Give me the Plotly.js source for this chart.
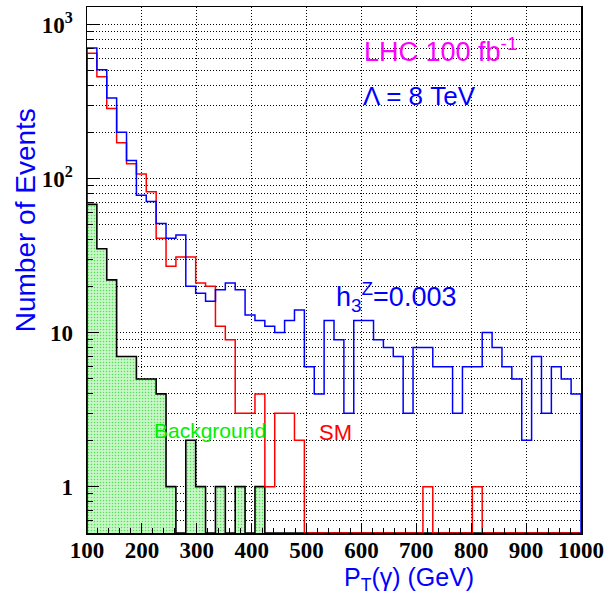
<!DOCTYPE html>
<html><head><meta charset="utf-8">
<script src="https://cdn.plot.ly/plotly-3.0.1.min.js"></script>
<style>html,body{margin:0;padding:0;background:#fff}</style>
</head><body><div id="chart" style="width:605px;height:597px"></div>
<script>
// Histogram definition: 50 bins of 18 GeV from 100 to 1000 GeV
const binLow = 100, binWidth = 18, nBins = 50;

// Signal, h3Z = 0.003 (blue)
const signal = [703, 508, 334, 200, 131, 78, 71, 51, 41, 43,
                20, 18, 16, 19, 21, 19, 13, 12, 11, 10,
                12, 14, 6, 4, 12, 9, 3, 12, 12, 9,
                8, 7, 3, 8, 8, 6, 6, 3, 6, 6,
                10, 8, 6, 5, 2, 7, 3, 6, 5, 4];
// Standard Model (red)
const sm = [652, 459, 285, 171, 125, 107, 82, 41, 27, 31,
            31, 21, 20, 11, 9, 3, 3, 4, 1, 3,
            3, 2, 0, 0, 0, 0, 0, 0, 0, 0,
            0, 0, 0, 0, 1, 0, 0, 0, 0, 1,
            0, 0, 0, 0, 0, 0, 0, 0, 0, 0];
// Background (black outline, green fill)
const background = [68, 35, 22, 7, 7, 5, 5, 4, 1, 0,
                    2, 1, 0, 1, 0, 1, 0, 1, 0, 0,
                    0, 0, 0, 0, 0, 0, 0, 0, 0, 0,
                    0, 0, 0, 0, 0, 0, 0, 0, 0, 0,
                    0, 0, 0, 0, 0, 0, 0, 0, 0, 0];

const xTickVals = [100, 200, 300, 400, 500, 600, 700, 800, 900, 1000];
const yTickVals = [1, 10, 100, 1000];
const yTickText = ['1', '10', '10<sup>2</sup>', '10<sup>3</sup>'];

const yMin = 0.5, yMax = 1300;
const edges = Array.from({length: nBins + 1}, (_, i) => binLow + i * binWidth);
const centers = edges.slice(0, -1).map(e => e + binWidth / 2);

function stepTrace(vals, color, width) {
  const x = [edges[0]], y = [yMin];
  vals.forEach((v, i) => { x.push(edges[i]); y.push(v > 0 ? v : yMin); });
  const last = vals[nBins - 1] > 0 ? vals[nBins - 1] : yMin;
  x.push(edges[nBins]); y.push(last);
  x.push(edges[nBins]); y.push(yMin);
  return {type: 'scatter', mode: 'lines', x: x, y: y,
          line: {shape: 'hv', color: color, width: width}, hoverinfo: 'skip'};
}

const minorY = [];
[0.1, 1, 10, 100].forEach(d => { for (let k = 2; k <= 9; k++) { const v = k * d; if (v >= yMin && v <= yMax) minorY.push(v); } });

const traces = [
  {type: 'bar', x: centers, y: background, width: binWidth,
   marker: {color: '#b6f2b6', line: {width: 0},
            pattern: {shape: '.', fgcolor: '#52e052', bgcolor: '#c8f7c8', size: 3, solidity: 0.2}},
   hoverinfo: 'skip'},
  stepTrace(background, '#000000', 1.6),
  stepTrace(sm, '#ff0000', 1.5),
  stepTrace(signal, '#0000ff', 1.5)
];

const gridDash = '1px,2px';
const layout = {
  width: 605, height: 597,
  margin: {l: 87, r: 24, t: 7, b: 64},
  paper_bgcolor: '#ffffff', plot_bgcolor: '#ffffff',
  showlegend: false, bargap: 0,
  xaxis: {
    range: [100, 1000], tickmode: 'array', tickvals: xTickVals,
    ticks: 'inside', ticklen: 10, tickwidth: 1, tickcolor: '#000',
    showgrid: true, gridcolor: '#000', griddash: gridDash, gridwidth: 1,
    showline: true, linecolor: '#000', linewidth: 1.5, mirror: true,
    zeroline: false, ticklabelstandoff: -4,
    tickfont: {family: 'Liberation Serif', size: 23, color: '#000', weight: 'bold'},
    minor: {tickmode: 'linear', tick0: 100, dtick: 20, ticks: 'inside', ticklen: 5, tickcolor: '#000', showgrid: false}
  },
  yaxis: {
    type: 'log', range: [Math.log10(yMin), Math.log10(yMax)],
    tickmode: 'array', tickvals: yTickVals, ticktext: yTickText,
    ticks: 'inside', ticklen: 12, tickwidth: 1, tickcolor: '#000',
    showgrid: true, gridcolor: '#000', griddash: gridDash, gridwidth: 1,
    showline: true, linecolor: '#000', linewidth: 1.5, mirror: true,
    zeroline: false, ticklabelstandoff: 8,
    tickfont: {family: 'Liberation Serif', size: 23, color: '#000', weight: 'bold'},
    minor: {tickmode: 'array', tickvals: minorY, ticks: 'inside', ticklen: 6, tickcolor: '#000',
            showgrid: true, gridcolor: '#000', griddash: gridDash, gridwidth: 1}
  },
  annotations: [
    {xref: 'paper', yref: 'paper', x: 0.557, y: 0.918, xanchor: 'left', yanchor: 'middle', showarrow: false,
     text: 'LHC 100 fb<sup>-1</sup>', font: {family: 'Liberation Sans', size: 27, color: '#ff00ff'}},
    {xref: 'paper', yref: 'paper', x: 0.555, y: 0.830, xanchor: 'left', yanchor: 'middle', showarrow: false,
     text: 'Λ = 8 TeV', font: {family: 'Liberation Sans', size: 26, color: '#0000ff'}},
    {xref: 'paper', yref: 'paper', x: 0.500, y: 0.449, xanchor: 'left', yanchor: 'middle', showarrow: false,
     text: 'h<sub>3</sub><sup>Z</sup>=0.003', font: {family: 'Liberation Sans', size: 27, color: '#0000ff'}},
    {xref: 'paper', yref: 'paper', x: 0.132, y: 0.194, xanchor: 'left', yanchor: 'middle', showarrow: false,
     text: 'Background', font: {family: 'Liberation Sans', size: 21, color: '#00ee00'}},
    {xref: 'paper', yref: 'paper', x: 0.466, y: 0.192, xanchor: 'left', yanchor: 'middle', showarrow: false,
     text: 'SM', font: {family: 'Liberation Sans', size: 22, color: '#ff0000'}},
    {xref: 'paper', yref: 'paper', x: 0.516, y: -0.088, xanchor: 'left', yanchor: 'middle', showarrow: false,
     text: 'P<sub>T</sub>(γ) (GeV)', font: {family: 'Liberation Sans', size: 25, color: '#0000ff'}},
    {xref: 'paper', yref: 'paper', x: -0.125, y: 0.595, xanchor: 'center', yanchor: 'middle', showarrow: false,
     textangle: -90, text: 'Number of Events', font: {family: 'Liberation Sans', size: 28, color: '#0000ff'}}
  ]
};

Plotly.newPlot('chart', traces, layout, {displayModeBar: false, staticPlot: true});
</script>
</body></html>
